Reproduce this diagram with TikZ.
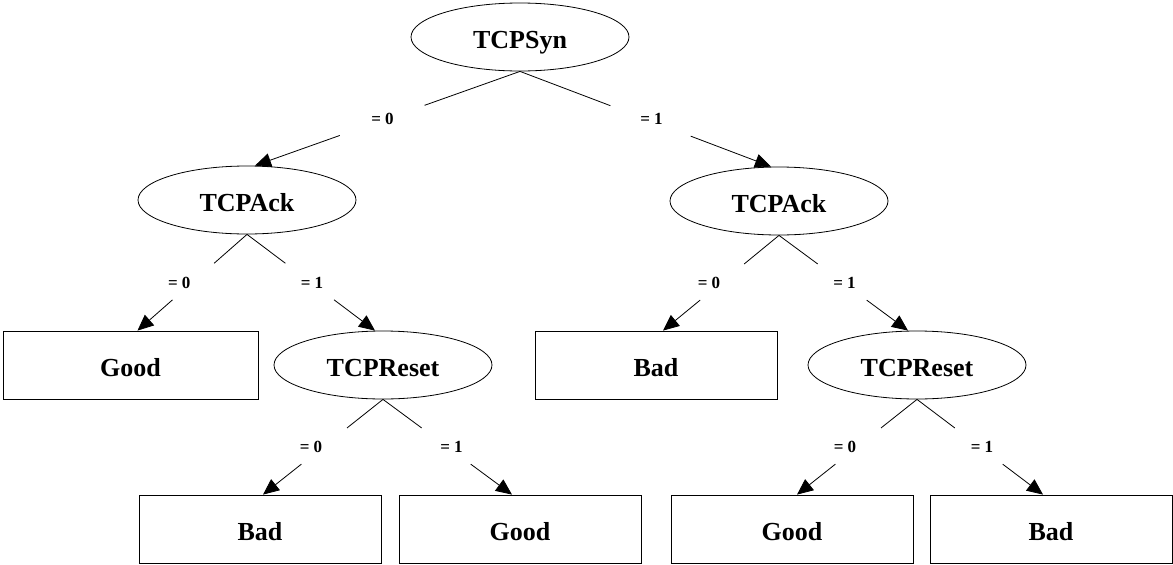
\documentclass[tikz,border=0pt]{standalone}
\usepackage{fontspec}
\setmainfont{Liberation Serif}
\usetikzlibrary{shapes.geometric,arrows.meta,calc}
\begin{document}
\begin{tikzpicture}[x=1pt,y=-1pt,
  every node/.style={font=\bfseries\fontsize{26}{30}\selectfont},
  inner/.style={draw,ellipse,line width=0.8pt,minimum width=218,minimum height=68,inner sep=0pt,text height=23pt,text depth=0pt},
  leaf/.style={draw,rectangle,line width=0.8pt,minimum width=242,minimum height=68,inner sep=0pt,text height=23pt,text depth=0pt},
  edge/.style={line width=0.8pt},
  tip/.style={-{Triangle[length=16pt,width=14pt]}},
  lbl/.style={font=\bfseries\fontsize{17}{20}\selectfont,inner sep=0pt}]
\useasboundingbox (0,0) rectangle (1173,565);
% internal nodes
\node[inner] (syn) at (520,37) {TCPSyn};
\node[inner] (ackL) at (247,200) {TCPAck};
\node[inner] (ackR) at (779,201) {TCPAck};
\node[inner] (resL) at (383,365) {TCPReset};
\node[inner] (resR) at (917,365) {TCPReset};
% leaves
\node[leaf,minimum width=255] (goodL) at (130.5,365) {Good};
\node[leaf] (badM) at (656,365) {Bad};
\node[leaf] (bad1) at (260,529) {Bad};
\node[leaf] (good1) at (520,529) {Good};
\node[leaf] (good2) at (792,529) {Good};
\node[leaf] (bad2) at (1051,529) {Bad};
% edges
\foreach \p/\c/\t/\ts/\ls/\f in {
  syn/ackL/= 0/8pt/-5/0.36, syn/ackR/= 1/-8pt/6/0.36,
  ackL/goodL/= 0/7pt/-13/0.3, ackL/resL/= 1/-8pt/1/0.3,
  ackR/badM/= 0/7pt/-12/0.3, ackR/resR/= 1/-9pt/1/0.3,
  resL/bad1/= 0/3pt/-12/0.3, resL/good1/= 1/-8pt/4/0.3,
  resR/good2/= 0/5pt/-12/0.3, resR/bad2/= 1/-8pt/2/0.3}{
  \draw[edge] (\p.south) -- ($(\p.south)!\f!([xshift=\ts]\c.north)$);
  \draw[edge,tip] ($(\p.south)!0.68!([xshift=\ts]\c.north)$) -- ([xshift=\ts]\c.north);
  \node[lbl] (l-\c) at ($(\p.south)!0.5!([xshift=\ts]\c.north)+(\ls,0)$) {\t};
}
\end{tikzpicture}
\end{document}
